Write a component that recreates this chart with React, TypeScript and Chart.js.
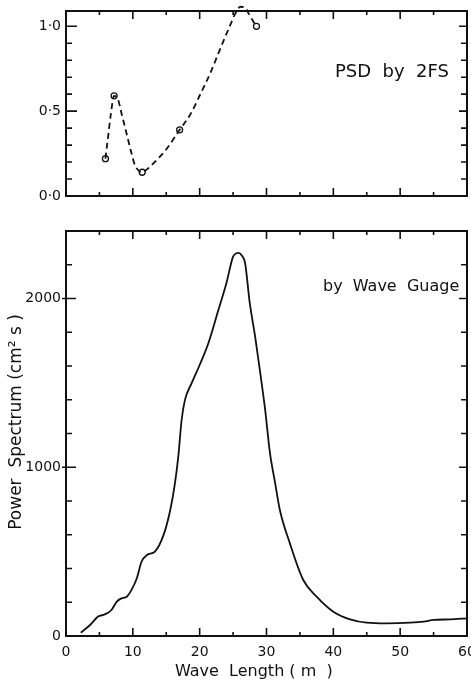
import React, { useEffect, useRef } from "react";
import { Chart, registerables } from "chart.js";
Chart.register(...registerables);

// ---- Data ----
const X_MIN = 0;
const X_MAX = 60;
const xTickValues = [0, 10, 20, 30, 40, 50, 60];

// Top panel: PSD by 2FS (circles)
const psdPointX = [5.9, 7.2, 11.4, 17.0, 28.5];
const psdPointY = [0.22, 0.59, 0.14, 0.39, 1.0];
// Top panel: dashed curve trace
const psdCurveX = [5.9, 6.3, 6.7, 7.2, 7.8, 8.3, 8.8, 9.3, 9.8, 10.3, 11.0, 11.4, 12.2, 13.1, 15.1, 17.0, 18.6, 20.1, 21.6, 23.0, 24.5, 25.4, 26.1, 26.8, 27.4, 28.0, 28.5];
const psdCurveY = [0.22, 0.35, 0.48, 0.59, 0.567, 0.488, 0.41, 0.33, 0.252, 0.183, 0.145, 0.14, 0.16, 0.193, 0.28, 0.39, 0.48, 0.6, 0.725, 0.86, 1.0, 1.08, 1.115, 1.11, 1.07, 1.03, 1.0];
const psdYMax = 1.09;
const psdYTickValues = [0, 0.5, 1.0];

// Bottom panel: by Wave Guage
const waveX = [2.2, 3.6, 4.8, 5.8, 6.8, 7.6, 8.3, 9.1, 9.8, 10.6, 11.3, 12.1, 13.3, 14.6, 15.6, 16.3, 16.8, 17.3, 17.8, 18.8, 20.0, 21.3, 22.8, 24.0, 25.0, 25.5, 25.8, 26.3, 26.8, 27.5, 28.3, 29.0, 29.8, 30.5, 31.3, 32.0, 33.5, 35.5, 37.5, 40.0, 42.5, 45.0, 48.0, 51.5, 53.5, 55.0, 57.5, 60.0];
const waveY = [20, 65, 115, 128, 154, 204, 223, 233, 273, 342, 440, 480, 500, 599, 747, 905, 1063, 1280, 1399, 1498, 1606, 1735, 1932, 2091, 2248, 2268, 2270, 2255, 2209, 1972, 1774, 1577, 1340, 1090, 905, 747, 549, 332, 233, 144, 99, 79, 75, 79, 85, 95, 99, 105];
const waveYMax = 2400;
const waveYTickValues = [0, 1000, 2000];

const FONT = "'DejaVu Sans', sans-serif";

type TextItem = { text: string; x: number; y: number; size: number; rotate?: boolean; align?: CanvasTextAlign; base?: CanvasTextBaseline };
type FrameSpec = { yMinor: number; yMajorEvery: number; majorOut: number; majorIn: number; texts: TextItem[] };

function framePlugin(spec: FrameSpec) {
  return {
    id: "frameTicks",
    afterDraw(chart: any) {
      const { ctx, chartArea: a, scales } = chart;
      const xs = scales.x;
      const ys = scales.y;
      ctx.save();
      ctx.strokeStyle = "#111";
      ctx.lineWidth = 2;
      ctx.strokeRect(a.left, a.top, a.right - a.left, a.bottom - a.top);
      ctx.lineWidth = 1.6;
      ctx.beginPath();
      for (let i = 1; i * 5 < X_MAX; i++) {
        const px = xs.getPixelForValue(i * 5);
        const L = i % 2 === 0 ? 8 : 4;
        ctx.moveTo(px, a.bottom);
        ctx.lineTo(px, a.bottom - L);
        ctx.moveTo(px, a.top);
        ctx.lineTo(px, a.top + L);
      }
      for (let i = 1; i * spec.yMinor < ys.max - 1e-9; i++) {
        const py = ys.getPixelForValue(i * spec.yMinor);
        const major = i % spec.yMajorEvery === 0;
        ctx.moveTo(a.left - (major ? spec.majorOut : 0), py);
        ctx.lineTo(a.left + (major ? spec.majorIn : 6), py);
        ctx.moveTo(a.right, py);
        ctx.lineTo(a.right - (major ? 8 : 6), py);
      }
      ctx.stroke();
      ctx.fillStyle = "#111";
      for (const t of spec.texts) {
        ctx.font = `${t.size}px ${FONT}`;
        ctx.textAlign = t.align || "left";
        ctx.textBaseline = t.base || "alphabetic";
        if (t.rotate) {
          ctx.save();
          ctx.translate(t.x, t.y);
          ctx.rotate(-Math.PI / 2);
          ctx.fillText(t.text, 0, 0);
          ctx.restore();
        } else {
          ctx.fillText(t.text, t.x, t.y);
        }
      }
      ctx.restore();
    },
  };
}

const fmtDot = (v: number) => v.toFixed(1).replace(".", "·");

export default function App() {
  const topRef = useRef<HTMLCanvasElement>(null);
  const botRef = useRef<HTMLCanvasElement>(null);

  useEffect(() => {
    document.body.style.margin = "0";
    const commonX = (showLabels: boolean, h: number) => ({
      type: "linear" as const,
      min: X_MIN,
      max: X_MAX,
      grid: { display: false, drawTicks: false },
      border: { display: false },
      ticks: { display: showLabels, padding: 8, color: "#111", font: { family: FONT, size: 14 } },
      afterBuildTicks: (s: any) => {
        s.ticks = xTickValues.map((v) => ({ value: v }));
      },
      afterFit: (s: any) => {
        s.height = h;
        s.paddingLeft = 0;
        s.paddingRight = 0;
      },
    });
    const commonY = (max: number, tickVals: number[], cb: (v: number) => string) => ({
      type: "linear" as const,
      min: 0,
      max,
      grid: { display: false, drawTicks: false },
      border: { display: false },
      ticks: { padding: 5, color: "#111", font: { family: FONT, size: 14 }, callback: (v: any) => cb(Number(v)) },
      afterBuildTicks: (s: any) => {
        s.ticks = tickVals.map((v) => ({ value: v }));
      },
      afterFit: (s: any) => {
        s.width = 66;
        s.paddingTop = 0;
        s.paddingBottom = 0;
      },
    });

    const top = new Chart(topRef.current!, {
      type: "scatter",
      data: {
        datasets: [
          {
            data: psdCurveX.map((x, i) => ({ x, y: psdCurveY[i] })),
            showLine: true,
            borderColor: "#111",
            borderWidth: 1.8,
            borderDash: [6, 4],
            pointRadius: 0,
            cubicInterpolationMode: "monotone",
            clip: false as any,
          },
          {
            data: psdPointX.map((x, i) => ({ x, y: psdPointY[i] })),
            showLine: false,
            pointRadius: 3,
            pointBackgroundColor: "#fff",
            pointBorderColor: "#111",
            pointBorderWidth: 1.3,
          },
        ],
      },
      options: {
        animation: false,
        responsive: false,
        devicePixelRatio: 1,
        layout: { autoPadding: false, padding: { top: 11, right: 4, left: 0, bottom: 0 } },
        plugins: { legend: { display: false }, tooltip: { enabled: false } },
        scales: {
          x: commonX(false, 19),
          y: commonY(psdYMax, psdYTickValues, fmtDot),
        } as any,
      },
      plugins: [
        framePlugin({
          yMinor: 0.1,
          yMajorEvery: 5,
          majorOut: 0,
          majorIn: 11,
          texts: [{ text: "PSD  by  2FS", x: 335, y: 77, size: 18 }],
        }),
      ],
    } as any);

    const bot = new Chart(botRef.current!, {
      type: "scatter",
      data: {
        datasets: [
          {
            data: waveX.map((x, i) => ({ x, y: waveY[i] })),
            showLine: true,
            borderColor: "#111",
            borderWidth: 1.8,
            pointRadius: 0,
            cubicInterpolationMode: "monotone",
          },
        ],
      },
      options: {
        animation: false,
        responsive: false,
        devicePixelRatio: 1,
        layout: { autoPadding: false, padding: { top: 16, right: 4, left: 0, bottom: 0 } },
        plugins: { legend: { display: false }, tooltip: { enabled: false } },
        scales: {
          x: commonX(true, 48),
          y: commonY(waveYMax, waveYTickValues, (v) => String(v)),
        } as any,
      },
      plugins: [
        framePlugin({
          yMinor: 200,
          yMajorEvery: 5,
          majorOut: 4,
          majorIn: 10,
          texts: [
            { text: "by  Wave  Guage", x: 323, y: 76, size: 16 },
            { text: "Wave  Length ( m  )", x: 175, y: 461, size: 16 },
            { text: "Power  Spectrum (cm² s )", x: 17, y: 207, size: 17, rotate: true, align: "center", base: "middle" },
          ],
        }),
      ],
    } as any);

    return () => {
      top.destroy();
      bot.destroy();
    };
  }, []);

  return (
    <div style={{ position: "relative", width: 471, height: 684, background: "#fff", overflow: "hidden" }}>
      <canvas ref={topRef} width={471} height={215} style={{ position: "absolute", left: 0, top: 0, width: 471, height: 215 }} />
      <canvas ref={botRef} width={471} height={469} style={{ position: "absolute", left: 0, top: 215, width: 471, height: 469 }} />
    </div>
  );
}
